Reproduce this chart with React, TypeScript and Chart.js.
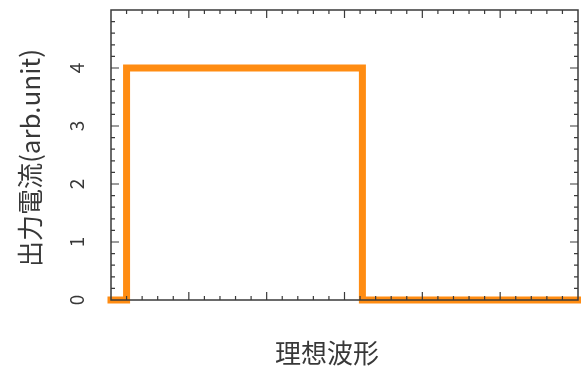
import React, { useEffect, useRef } from "react";
import { Chart, registerables } from "chart.js";

Chart.register(...registerables);

// Ideal waveform (step): x positions and output current values
const waveX = [0, 0.2, 0.2, 3.23, 3.23, 6];
const waveY = [0, 0, 4, 4, 0, 0];
const yTickLabels = ["0", "1", "2", "3", "4"];
const xTitle = "理想波形";
const yTitle = "出力電流(arb.unit)";

const X_MIN = 0, X_MAX = 6, Y_MIN = 0, Y_MAX = 5;
const MINOR = 0.2;
const FONT = '"Noto Sans CJK JP", "Noto Sans", sans-serif';
const AXIS_COLOR = "#3a3a3a";
const TEXT_COLOR = "#383838";
const LINE_COLOR = "#ff8c12";

const framePlugin = {
  id: "framePlugin",
  afterDatasetsDraw(chart: any) {
    const ctx = chart.ctx as CanvasRenderingContext2D;
    const { left, right, top, bottom } = chart.chartArea;
    const xs = chart.scales.x;
    const ys = chart.scales.y;
    ctx.save();
    ctx.strokeStyle = AXIS_COLOR;
    ctx.lineWidth = 1.5;
    ctx.strokeRect(left, top, right - left, bottom - top);
    ctx.lineWidth = 1.2;
    ctx.beginPath();
    const nX = Math.round((X_MAX - X_MIN) / MINOR);
    for (let i = 1; i < nX; i++) {
      const v = X_MIN + i * MINOR;
      const px = xs.getPixelForValue(v);
      const len = i % 5 === 0 ? 8 : 4;
      ctx.moveTo(px, bottom);
      ctx.lineTo(px, bottom - len);
      ctx.moveTo(px, top);
      ctx.lineTo(px, top + len);
    }
    const nY = Math.round((Y_MAX - Y_MIN) / MINOR);
    for (let i = 1; i < nY; i++) {
      const v = Y_MIN + i * MINOR;
      const py = ys.getPixelForValue(v);
      const len = i % 5 === 0 ? 8 : 4;
      ctx.moveTo(left, py);
      ctx.lineTo(left + len, py);
      ctx.moveTo(right, py);
      ctx.lineTo(right - len, py);
    }
    ctx.stroke();

    // y tick labels (rotated)
    ctx.fillStyle = TEXT_COLOR;
    ctx.font = `19px ${FONT}`;
    ctx.textAlign = "center";
    ctx.textBaseline = "middle";
    yTickLabels.forEach((lab) => {
      const py = ys.getPixelForValue(Number(lab));
      ctx.save();
      ctx.translate(77, py);
      ctx.rotate(-Math.PI / 2);
      ctx.fillText(lab, 0, 0);
      ctx.restore();
    });

    // axis titles
    ctx.font = `26px ${FONT}`;
    ctx.fillText(xTitle, 327, 353);
    ctx.save();
    ctx.translate(30, 158);
    ctx.rotate(-Math.PI / 2);
    ctx.fillText(yTitle, 0, 0);
    ctx.restore();
    ctx.restore();
  },
};

export default function App() {
  const ref = useRef<HTMLCanvasElement | null>(null);
  useEffect(() => {
    document.body.style.margin = "0";
    const canvas = ref.current!;
    const data = waveX.map((x, i) => ({ x, y: waveY[i] }));
    const chart = new Chart(canvas, {
      type: "line",
      data: {
        datasets: [
          {
            data,
            borderColor: LINE_COLOR,
            backgroundColor: LINE_COLOR,
            borderWidth: 7,
            pointRadius: 0,
            tension: 0,
            fill: false,
            clip: false as any,
            borderCapStyle: "square",
            borderJoinStyle: "miter",
          },
        ],
      },
      options: {
        responsive: false,
        animation: false,
        devicePixelRatio: 1,
        layout: { padding: { top: 10, right: 3, left: 0, bottom: 0 } },
        plugins: { legend: { display: false }, tooltip: { enabled: false } },
        scales: {
          x: {
            type: "linear",
            min: X_MIN,
            max: X_MAX,
            grid: { display: false, drawTicks: false },
            border: { display: false },
            ticks: { display: false },
            afterFit: (s: any) => {
              s.height = 69;
            },
          },
          y: {
            type: "linear",
            min: Y_MIN,
            max: Y_MAX,
            grid: { display: false, drawTicks: false },
            border: { display: false },
            ticks: { display: false },
            afterFit: (s: any) => {
              s.width = 111;
            },
          },
        },
      },
      plugins: [framePlugin],
    });
    return () => chart.destroy();
  }, []);
  return (
    <div style={{ position: "fixed", left: 0, top: 0, width: 581, height: 369, background: "#fff" }}>
      <canvas ref={ref} width={581} height={369} />
    </div>
  );
}
